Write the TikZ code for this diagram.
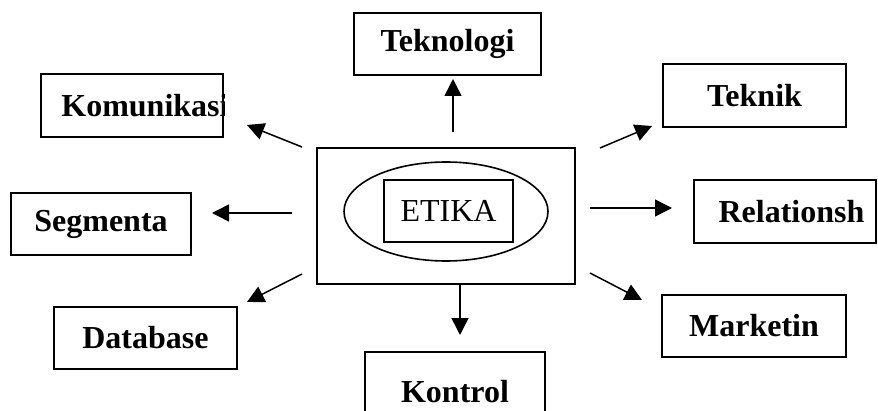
\documentclass[tikz,border=0pt]{standalone}
\usepackage{fontspec}
\setmainfont{Liberation Serif}
\usetikzlibrary{arrows.meta,shapes.geometric}
\tikzset{
  box/.style={draw, line width=1pt, rectangle, inner sep=0pt, font=\fontsize{16}{18}\selectfont\bfseries},
  lbl/.style={inner sep=0pt, font=\fontsize{16}{18}\selectfont\bfseries},
  conn/.style={line width=0.75pt, -{Triangle[length=8.5pt,width=8.5pt]}}
}
\begin{document}
\begin{tikzpicture}[x=0.5pt,y=-0.5pt]
\clip (0,0) rectangle (878,411);
\fill[white] (0,0) rectangle (878,411);
% central group
\node[draw, line width=1pt, minimum width=129pt, minimum height=68pt, inner sep=0pt] (ctr) at (446,216) {};
\node[draw, ellipse, line width=0.8pt, minimum width=102pt, minimum height=49.5pt, inner sep=0pt] (ell) at (446,211.5) {};
\node[draw, line width=0.8pt, minimum width=64.5pt, minimum height=31pt, inner sep=0pt, font=\fontsize{16}{18}\selectfont] (etika) at (448.5,211) {ETIKA};
% outer boxes
\node[box, minimum width=93.5pt, minimum height=31pt] (tek) at (447.5,44) {Teknologi};
\node[box, minimum width=91pt, minimum height=31.5pt] (kom) at (132,105.5) {};
\begin{scope}
\clip (kom.south west) rectangle (kom.north east);
\node[lbl, anchor=west] (komt) at ([xshift=10.5pt]kom.west) {Komunikasi};
\end{scope}
\node[box, minimum width=91.5pt, minimum height=31.5pt] (tkn) at (754.5,95.5) {Teknik};
\node[box, minimum width=90pt, minimum height=31pt] (seg) at (101,224) {Segmenta};
\node[box, minimum width=91pt, minimum height=31.5pt] (rel) at (785,211.5) {};
\node[lbl] (relt) at (791.5,211.5) {Relationsh};
\node[box, minimum width=92pt, minimum height=31pt] (mkt) at (754,326) {Marketin};
\node[box, minimum width=91.5pt, minimum height=31pt] (db) at (145.5,338) {Database};
\node[box, minimum width=90pt, minimum height=40pt] (kon) at (455,392) {Kontrol};
% arrow end points
\coordinate (t1) at (453,132); \coordinate (h1) at (453,79);
\coordinate (t2) at (302,147); \coordinate (h2) at (247,125);
\coordinate (t3) at (600,148); \coordinate (h3) at (652,126);
\coordinate (t4) at (292,213); \coordinate (h4) at (212,213);
\coordinate (t5) at (590,208); \coordinate (h5) at (672,208);
\coordinate (t6) at (302,274); \coordinate (h6) at (247,302);
\coordinate (t7) at (590,273); \coordinate (h7) at (642,300);
\coordinate (t8) at (460,284); \coordinate (h8) at (460,335);
\draw[conn] (t1) -- (h1);
\draw[conn] (t2) -- (h2);
\draw[conn] (t3) -- (h3);
\draw[conn] (t4) -- (h4);
\draw[conn] (t5) -- (h5);
\draw[conn] (t6) -- (h6);
\draw[conn] (t7) -- (h7);
\draw[conn] (t8) -- (h8);
\end{tikzpicture}
\end{document}
